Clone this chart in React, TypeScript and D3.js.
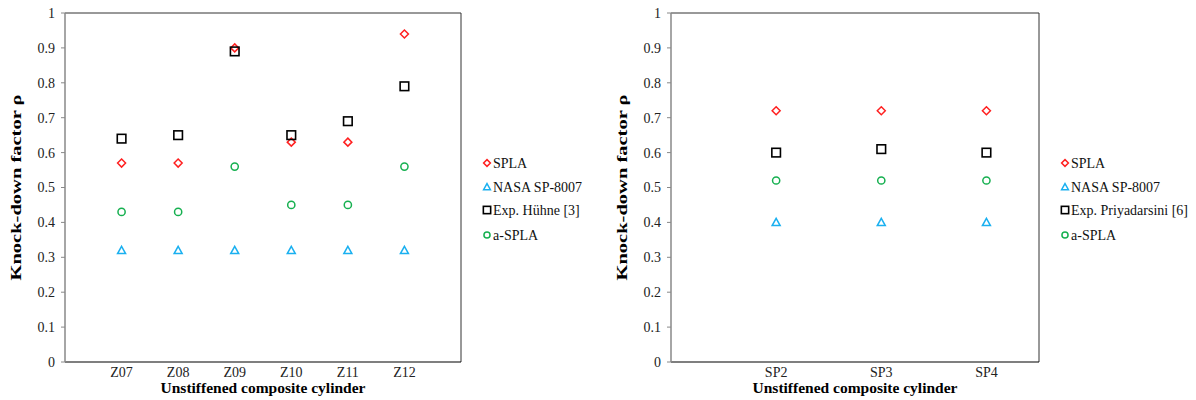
import React from "react";
import * as d3 from "d3";

// Left panel: Z-series cylinders
const zCats = ["Z07", "Z08", "Z09", "Z10", "Z11", "Z12"];
const zSpla = [0.57, 0.57, 0.9, 0.63, 0.63, 0.94];
const zNasa = [0.32, 0.32, 0.32, 0.32, 0.32, 0.32];
const zExp = [0.64, 0.65, 0.89, 0.65, 0.69, 0.79];
const zASpla = [0.43, 0.43, 0.56, 0.45, 0.45, 0.56];

// Right panel: SP-series cylinders
const spCats = ["SP2", "SP3", "SP4"];
const spSpla = [0.72, 0.72, 0.72];
const spNasa = [0.4, 0.4, 0.4];
const spExp = [0.6, 0.61, 0.6];
const spASpla = [0.52, 0.52, 0.52];

const yTicks = [0, 0.1, 0.2, 0.3, 0.4, 0.5, 0.6, 0.7, 0.8, 0.9, 1];

const FONT = "'Liberation Serif', 'Times New Roman', serif";

type Shape = "diamond" | "triangle" | "square" | "circle";

const Marker: React.FC<{ shape: Shape; x: number; y: number; size?: number }> = ({ shape, x, y, size = 1 }) => {
  if (shape === "diamond") {
    const r = 4 * size;
    return (
      <path
        d={`M${x},${y - r}L${x + r},${y}L${x},${y + r}L${x - r},${y}Z`}
        fill="none"
        stroke="#ff2020"
        strokeWidth={1.5}
      />
    );
  }
  if (shape === "triangle") {
    const r = 4 * size;
    return (
      <path
        d={`M${x},${y - r}L${x + r},${y + r * 0.8}L${x - r},${y + r * 0.8}Z`}
        fill="none"
        stroke="#1ab0f0"
        strokeWidth={1.5}
      />
    );
  }
  if (shape === "square") {
    const r = 4.3 * size;
    return <rect x={x - r} y={y - r} width={2 * r} height={2 * r} fill="none" stroke="#000" strokeWidth={1.6} />;
  }
  return <circle cx={x} cy={y} r={3.6 * size} fill="none" stroke="#16b050" strokeWidth={1.5} />;
};

interface PanelProps {
  left: number;
  right: number;
  cats: string[];
  xMax: number;
  series: { name: string; shape: Shape; values: number[] }[];
  legendX: number;
}

const Panel: React.FC<PanelProps> = ({ left, right, cats, xMax, series, legendX }) => {
  const top = 13;
  const bottom = 362;
  const x = d3.scaleLinear().domain([0, xMax]).range([left, right]);
  const y = d3.scaleLinear().domain([0, 1]).range([bottom, top]);
  const legendY = [163, 187, 210, 235];

  return (
    <g fontFamily={FONT}>
      {/* frame */}
      <line x1={left} x2={right} y1={top} y2={top} stroke="#333" strokeWidth={1} />
      <line x1={right} x2={right} y1={top} y2={bottom} stroke="#333" strokeWidth={1} />
      <line x1={left} x2={right} y1={bottom} y2={bottom} stroke="#000" strokeWidth={1.2} />
      <line x1={left} x2={left} y1={top} y2={bottom} stroke="#888" strokeWidth={1.5} />

      {yTicks.map((t) => (
        <g key={t}>
          <line x1={left - 4} x2={left} y1={y(t)} y2={y(t)} stroke="#888" strokeWidth={1} />
          <text x={left - 10} y={y(t)} dy="0.35em" textAnchor="end" fontSize={14} fill="#222">
            {d3.format("")(t)}
          </text>
        </g>
      ))}

      {cats.map((c, i) => (
        <text key={c} x={x(i + 1)} y={377} textAnchor="middle" fontSize={14} fill="#222">
          {c}
        </text>
      ))}

      <text
        x={(left + right) / 2}
        y={393}
        textAnchor="middle"
        fontSize={15.5}
        fontWeight="bold"
        fill="#000"
      >
        Unstiffened composite cylinder
      </text>
      <text
        transform={`translate(${left - 44},${(top + bottom) / 2}) rotate(-90)`}
        textAnchor="middle"
        fontSize={15.5}
        fontWeight="bold"
        fill="#000"
        textLength={186}
        lengthAdjust="spacingAndGlyphs"
      >
        Knock-down factor ρ
      </text>

      {/* order: NASA, a-SPLA, SPLA, Exp */}
      {[1, 3, 0, 2].map((si) =>
        series[si].values.map((v, i) => (
          <Marker key={`${si}-${i}`} shape={series[si].shape} x={x(i + 1)} y={y(v)} />
        ))
      )}

      {series.map((s, i) => (
        <g key={s.name}>
          <Marker shape={s.shape} x={legendX} y={legendY[i]} size={0.85} />
          <text x={legendX + 6} y={legendY[i]} dy="0.35em" fontSize={14} fill="#111">
            {s.name}
          </text>
        </g>
      ))}
    </g>
  );
};

export default function App() {
  return (
    <svg width={1196} height={400} style={{ position: "absolute", left: 0, top: 0, background: "#fff" }}>
      <rect width={1196} height={400} fill="#fff" />
      <Panel
        left={65}
        right={461}
        cats={zCats}
        xMax={7}
        legendX={487}
        series={[
          { name: "SPLA", shape: "diamond", values: zSpla },
          { name: "NASA SP-8007", shape: "triangle", values: zNasa },
          { name: "Exp. Hühne [3]", shape: "square", values: zExp },
          { name: "a-SPLA", shape: "circle", values: zASpla },
        ]}
      />
      <Panel
        left={671}
        right={1039}
        cats={spCats}
        xMax={3.5}
        legendX={1065}
        series={[
          { name: "SPLA", shape: "diamond", values: spSpla },
          { name: "NASA SP-8007", shape: "triangle", values: spNasa },
          { name: "Exp. Priyadarsini [6]", shape: "square", values: spExp },
          { name: "a-SPLA", shape: "circle", values: spASpla },
        ]}
      />
    </svg>
  );
}
